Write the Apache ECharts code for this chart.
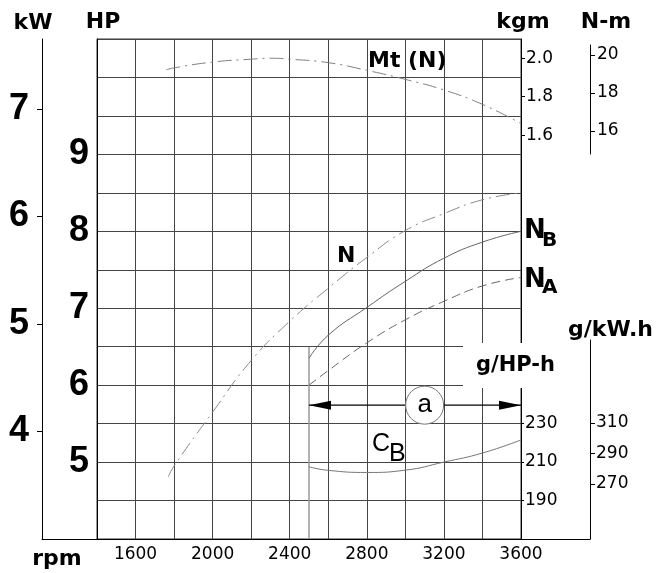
<!DOCTYPE html>
<html>
<head>
<meta charset="utf-8">
<script src="https://cdn.jsdelivr.net/npm/echarts@6/dist/echarts.min.js"></script>
<style>html,body{margin:0;padding:0;background:#fff}#c{width:660px;height:573px}</style>
</head>
<body>
<div id="c"></div>
<script>
// ---- data ----
var rpmTicks = [1600, 2000, 2400, 2800, 3200, 3600];
var hpTicks = [5, 6, 7, 8, 9];
var kwTicks = [4, 5, 6, 7];
var kgmTicks = [1.6, 1.8, 2.0];
var gHpTicks = [190, 210, 230];
var nmTicks = [16, 18, 20];
var gKwTicks = [270, 290, 310];

var mtRpm = [1760, 1800, 2000, 2200, 2300, 2400, 2600, 2800, 3000, 3200, 3400, 3600];
var mtKgm = [1.94, 1.95, 1.98, 1.995, 2.0, 1.995, 1.977, 1.937, 1.89, 1.835, 1.76, 1.66];

var nRpm = [1770, 1800, 2000, 2200, 2400, 2600, 2800, 3000, 3200, 3400, 3600];
var nHp = [4.81, 4.95, 5.65, 6.32, 6.83, 7.26, 7.66, 8.01, 8.23, 8.41, 8.5];

var partRpm = [2500, 2600, 2800, 3000, 3200, 3400, 3600];
var nbHp = [6.35, 6.65, 7.01, 7.35, 7.65, 7.86, 8.0];
var naHp = [6.0, 6.19, 6.55, 6.85, 7.09, 7.29, 7.4];
var cbG = [207.5, 205.7, 204.6, 205.8, 210.0, 214.7, 221.5];

var markRpm = 2500, markTopHp = 6.5, axisBottomHp = 4;
var arrowHp = 5.74, arrowFrom = 2500, arrowTo = 3600, circleRpm = 3100;

function zip(a, b) { return a.map(function (v, i) { return [v, b[i]]; }); }

var chart = echarts.init(document.getElementById('c'), null, { renderer: 'canvas' });
var GRID = '#454545';
var bigFont = { fontFamily: 'Liberation Sans', fontWeight: 'bold', fontSize: 36, color: '#000' };
var smallFont = { fontFamily: 'DejaVu Sans', fontSize: 17, color: '#000' };
var titleFont = 'bold 22px "DejaVu Sans"';

function txt(x, y, s, font, align) {
  return { type: 'text', x: x, y: y, z: 110,
    style: { text: s, font: font, fill: '#000', textAlign: align || 'left', textVerticalAlign: 'middle' } };
}

var option = {
  animation: false,
  backgroundColor: '#fff',
  grid: [
    { left: 97, top: 39, width: 424, height: 500, show: true, borderColor: '#333', borderWidth: 1 },
    { left: 42, top: 39, width: 548, height: 500 },
    { left: 589, top: 45, width: 1, height: 109 },
    { left: 589, top: 340, width: 1, height: 199 }
  ],
  xAxis: [
    { gridIndex: 0, type: 'value', min: 1400, max: 3600, interval: 200,
      axisLine: { onZero: false, lineStyle: { color: '#000' } }, axisTick: { show: false },
      axisLabel: Object.assign({ customValues: rpmTicks, margin: 7, formatter: function (v) { return String(v); } }, smallFont),
      splitLine: { show: true, lineStyle: { color: GRID, width: 1 } } },
    { gridIndex: 1, type: 'value', min: 0, max: 1, axisLine: { onZero: false, lineStyle: { color: '#000' } },
      axisTick: { show: false }, axisLabel: { show: false }, splitLine: { show: false } },
    { gridIndex: 2, type: 'value', min: 0, max: 1, show: false },
    { gridIndex: 3, type: 'value', min: 0, max: 1, show: false }
  ],
  yAxis: [
    { gridIndex: 0, type: 'value', position: 'left', min: 4, max: 10.5, interval: 0.5,
      axisLine: { show: true, onZero: false, lineStyle: { color: '#000' } }, axisTick: { show: false },
      axisLabel: Object.assign({ customValues: hpTicks, margin: 8 }, bigFont),
      splitLine: { show: true, lineStyle: { color: GRID, width: 1 } } },
    { gridIndex: 0, type: 'value', position: 'right', min: -0.5, max: 2.1,
      axisLine: { show: true, onZero: false, lineStyle: { color: '#000' } },
      axisTick: { show: true, inside: false, length: 4, customValues: kgmTicks, lineStyle: { color: '#000' } },
      axisLabel: Object.assign({ customValues: kgmTicks, margin: 5, formatter: function (v) { return v.toFixed(1); } }, smallFont),
      splitLine: { show: false } },
    { gridIndex: 0, type: 'value', position: 'right', min: 170, max: 430,
      axisLine: { show: false, onZero: false },
      axisTick: { show: true, inside: false, length: 3, customValues: gHpTicks, lineStyle: { color: '#000' } },
      axisLabel: Object.assign({ customValues: gHpTicks, margin: 4 }, smallFont),
      splitLine: { show: false } },
    { gridIndex: 1, type: 'value', position: 'left', min: 3, max: 7.65,
      axisLine: { show: true, onZero: false, lineStyle: { color: '#000' } },
      axisTick: { show: true, inside: false, length: 5, customValues: kwTicks, lineStyle: { color: '#000' } },
      axisLabel: Object.assign({ customValues: kwTicks, margin: 13 }, bigFont),
      splitLine: { show: false } },
    { gridIndex: 2, type: 'value', position: 'right', min: 14.79, max: 20.53,
      axisLine: { show: true, onZero: false, lineStyle: { color: '#000' } },
      axisTick: { show: true, inside: false, length: 5, customValues: nmTicks, lineStyle: { color: '#000' } },
      axisLabel: Object.assign({ customValues: nmTicks, margin: 7 }, smallFont),
      splitLine: { show: false } },
    { gridIndex: 3, type: 'value', position: 'right', min: 233.9, max: 364.4,
      axisLine: { show: true, onZero: false, lineStyle: { color: '#000' } },
      axisTick: { show: true, inside: false, length: 5, customValues: gKwTicks, lineStyle: { color: '#000' } },
      axisLabel: Object.assign({ customValues: gKwTicks, margin: 6 }, smallFont),
      splitLine: { show: false } }
  ],
  series: [
    { name: 'Mt', type: 'line', xAxisIndex: 0, yAxisIndex: 1, smooth: true, symbol: 'none',
      data: zip(mtRpm, mtKgm), lineStyle: { color: '#808080', width: 1, type: [14, 5, 2, 5] }, z: 5 },
    { name: 'N', type: 'line', xAxisIndex: 0, yAxisIndex: 0, smooth: true, symbol: 'none',
      data: zip(nRpm, nHp), lineStyle: { color: '#8a8a8a', width: 1, type: [14, 5, 2, 5] }, z: 5 },
    { name: 'NB', type: 'line', xAxisIndex: 0, yAxisIndex: 0, smooth: true, symbol: 'none',
      data: zip(partRpm, nbHp), lineStyle: { color: '#666', width: 1 }, z: 5 },
    { name: 'NA', type: 'line', xAxisIndex: 0, yAxisIndex: 0, smooth: true, symbol: 'none',
      data: zip(partRpm, naHp), lineStyle: { color: '#666', width: 1, type: [9, 5] }, z: 5 },
    { name: 'CB', type: 'line', xAxisIndex: 0, yAxisIndex: 2, smooth: true, symbol: 'none',
      data: zip(partRpm, cbG), lineStyle: { color: '#777', width: 1 }, z: 5 },
    { name: 'mark', type: 'line', xAxisIndex: 0, yAxisIndex: 0, symbol: 'none',
      data: [[markRpm, axisBottomHp], [markRpm, markTopHp]], lineStyle: { color: '#999', width: 1.5 }, z: 4 },
    { name: 'arrow', type: 'line', xAxisIndex: 0, yAxisIndex: 0, symbol: 'triangle', symbolSize: [9, 22],
      itemStyle: { color: '#000' }, lineStyle: { color: '#000', width: 1.2 }, z: 6,
      data: [
        { value: [arrowFrom, arrowHp], symbolRotate: 90, symbolOffset: [11, 0] },
        { value: [arrowTo, arrowHp], symbolRotate: -90, symbolOffset: [-11, 0] }
      ] },
    { name: 'a', type: 'scatter', xAxisIndex: 0, yAxisIndex: 0, symbol: 'circle', symbolSize: 38, z: 8,
      itemStyle: { color: '#fff', borderColor: '#777', borderWidth: 1, opacity: 1 },
      label: { show: true, position: 'inside', formatter: 'a', fontFamily: 'Liberation Sans', fontSize: 26, color: '#000' },
      data: [[circleRpm, arrowHp]] }
  ],
  graphic: [
    { type: 'rect', z: 100, shape: { x: 463, y: 343, width: 104, height: 45 }, style: { fill: '#fff' } },
    txt(33, 23, 'kW', titleFont, 'center'),
    txt(103, 22, 'HP', titleFont, 'center'),
    txt(523, 22, 'kgm', titleFont, 'center'),
    txt(606, 22, 'N-m', titleFont, 'center'),
    txt(568, 330, 'g/kW.h', titleFont, 'left'),
    txt(476, 366, 'g/HP-h', 'bold 21px "DejaVu Sans"', 'left'),
    txt(57, 559, 'rpm', titleFont, 'center'),
    txt(368, 61, 'Mt (N)', 'bold 22px "DejaVu Sans"', 'left'),
    txt(337, 256, 'N', 'bold 22px "DejaVu Sans"', 'left'),
    txt(524, 231, 'N', 'bold 26px "DejaVu Sans"', 'left'),
    txt(542, 241, 'B', 'bold 20px "DejaVu Sans"', 'left'),
    txt(524, 280, 'N', 'bold 26px "DejaVu Sans"', 'left'),
    txt(542, 288, 'A', 'bold 20px "DejaVu Sans"', 'left'),
    txt(372, 444, 'C', '25px "Liberation Sans"', 'left'),
    txt(389, 454, 'B', '25px "Liberation Sans"', 'left')
  ]
};
chart.setOption(option);
</script>
</body>
</html>
